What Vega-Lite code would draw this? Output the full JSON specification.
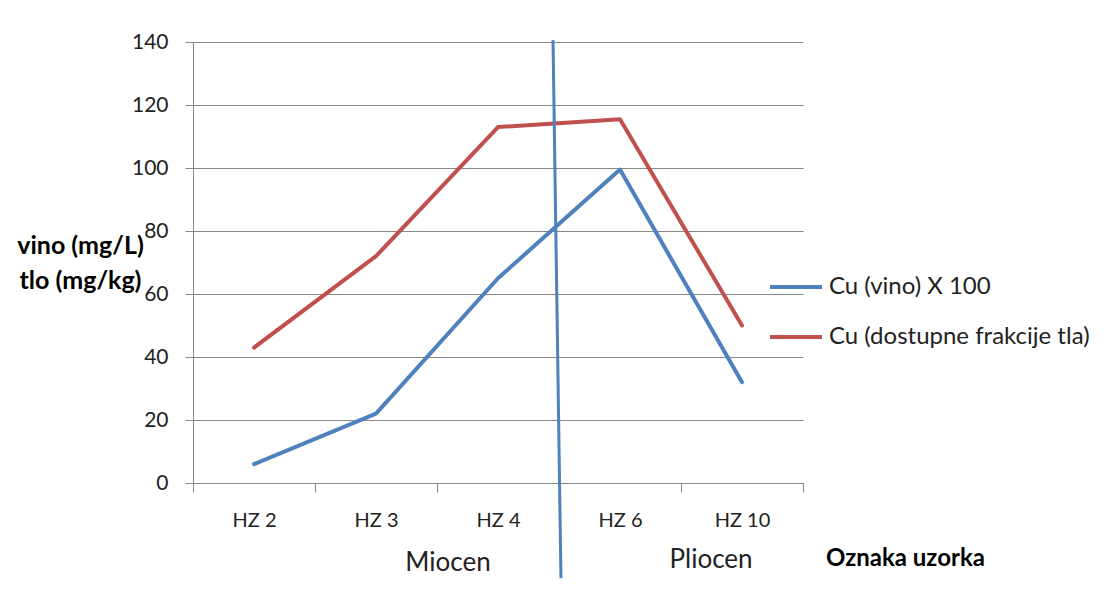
{
  "$schema": "https://vega.github.io/schema/vega-lite/v6.json",
  "width": 610,
  "height": 441,
  "autosize": {"type": "none"},
  "padding": {"left": 193, "top": 42, "right": 312, "bottom": 124},
  "background": "white",
  "config": {"font": "Lato", "view": {"stroke": null}},
  "layer": [
    {
      "data": {
        "values": [
          {"sample": "HZ 2", "series": "Cu (vino) X 100", "value": 6},
          {"sample": "HZ 3", "series": "Cu (vino) X 100", "value": 22},
          {"sample": "HZ 4", "series": "Cu (vino) X 100", "value": 65},
          {"sample": "HZ 6", "series": "Cu (vino) X 100", "value": 99.5},
          {"sample": "HZ 10", "series": "Cu (vino) X 100", "value": 32},
          {"sample": "HZ 2", "series": "Cu (dostupne frakcije tla)", "value": 43},
          {"sample": "HZ 3", "series": "Cu (dostupne frakcije tla)", "value": 72},
          {"sample": "HZ 4", "series": "Cu (dostupne frakcije tla)", "value": 113},
          {"sample": "HZ 6", "series": "Cu (dostupne frakcije tla)", "value": 115.5},
          {"sample": "HZ 10", "series": "Cu (dostupne frakcije tla)", "value": 50}
        ]
      },
      "mark": {"type": "line", "strokeWidth": 4, "strokeJoin": "round", "strokeCap": "round"},
      "encoding": {
        "x": {
          "field": "sample",
          "type": "nominal",
          "sort": ["HZ 2", "HZ 3", "HZ 4", "HZ 6", "HZ 10"],
          "scale": {"paddingInner": 0, "paddingOuter": 0},
          "axis": {
            "tickBand": "extent",
            "tickSize": 9,
            "tickColor": "#878787",
            "domainColor": "#878787",
            "labelAngle": 0,
            "labelPadding": 18,
            "labelFontSize": 20,
            "labelColor": "#222",
            "grid": false,
            "title": "Oznaka uzorka",
            "titleX": 712,
            "titleY": 82,
            "titleAlign": "center",
            "titleBaseline": "alphabetic",
            "titleFontSize": 24,
            "titleFontWeight": "bold",
            "titleColor": "#000"
          }
        },
        "y": {
          "field": "value",
          "type": "quantitative",
          "scale": {"domain": [0, 140], "nice": false},
          "axis": {
            "values": [0, 20, 40, 60, 80, 100, 120, 140],
            "tickSize": 8,
            "tickColor": "#878787",
            "domainColor": "#878787",
            "gridColor": "#878787",
            "labelPadding": 17,
            "labelFontSize": 21,
            "labelColor": "#222",
            "title": ["vino (mg/L)", "tlo (mg/kg)"],
            "titleAngle": 0,
            "titleX": -113,
            "titleY": 211,
            "titleAlign": "center",
            "titleBaseline": "alphabetic",
            "titleLineHeight": 35,
            "titleFontSize": 25,
            "titleFontWeight": "bold",
            "titleColor": "#000"
          }
        },
        "color": {
          "field": "series",
          "type": "nominal",
          "scale": {
            "domain": ["Cu (vino) X 100", "Cu (dostupne frakcije tla)"],
            "range": ["#4F81BD", "#C0504D"]
          },
          "legend": {
            "orient": "none",
            "legendX": 575,
            "legendY": 220,
            "title": null,
            "symbolType": "stroke",
            "symbolSize": 2700,
            "symbolStrokeWidth": 4,
            "labelFontSize": 24,
            "labelColor": "#222",
            "labelOffset": 5,
            "labelLimit": 500,
            "clipHeight": 50,
            "rowPadding": 0,
            "padding": 0
          }
        }
      }
    },
    {
      "data": {"values": [{"x": 2.951, "x2": 3.016, "y": 140.6, "y2": -30.2}]},
      "mark": {"type": "rule", "color": "#4F81BD", "strokeWidth": 3},
      "encoding": {
        "x": {"field": "x", "type": "quantitative", "scale": {"domain": [0, 5], "nice": false, "zero": false}, "axis": null},
        "x2": {"field": "x2"},
        "y": {"field": "y", "type": "quantitative", "scale": {"domain": [0, 140], "nice": false}},
        "y2": {"field": "y2"}
      }
    },
    {
      "data": {
        "values": [
          {"label": "Miocen", "xp": 2.09, "yp": -25.4},
          {"label": "Pliocen", "xp": 4.246, "yp": -24.4}
        ]
      },
      "mark": {"type": "text", "fontSize": 26, "color": "#222", "baseline": "middle", "align": "center"},
      "encoding": {
        "x": {"field": "xp", "type": "quantitative", "scale": {"domain": [0, 5], "nice": false, "zero": false}, "axis": null},
        "y": {"field": "yp", "type": "quantitative", "scale": {"domain": [0, 140], "nice": false}},
        "text": {"field": "label"}
      }
    }
  ],
  "resolve": {"scale": {"x": "independent"}}
}
